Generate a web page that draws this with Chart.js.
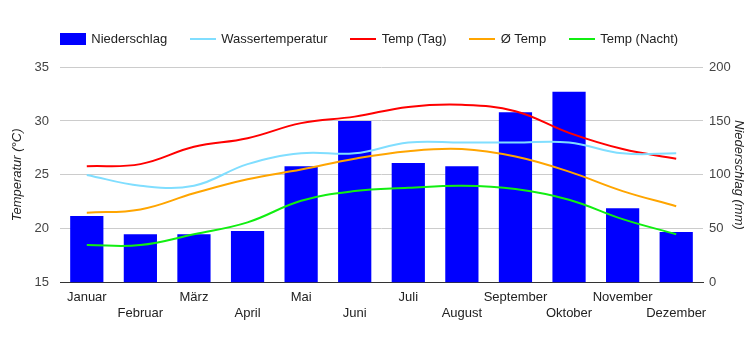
<!DOCTYPE html>
<html>
<head>
<meta charset="utf-8">
<script src="https://cdn.jsdelivr.net/npm/chart.js@4/dist/chart.umd.min.js"></script>
<style>
html,body{margin:0;padding:0;background:#fff;}
canvas{display:block;}
</style>
</head>
<body>
<canvas id="c" width="750" height="350"></canvas>
<script>
const months = ['Januar','Februar','März','April','Mai','Juni','Juli','August','September','Oktober','November','Dezember'];
const niederschlag = [62, 45, 45, 48, 108, 150, 111, 108, 158, 177, 69, 47];
const wassertemperatur = [25, 24, 24, 26, 27, 27, 28, 28, 28, 28, 27, 27];
const tempTag = [25.8, 26.0, 27.6, 28.4, 29.8, 30.4, 31.3, 31.5, 30.9, 28.9, 27.4, 26.5];
const tempMittel = [21.5, 21.8, 23.3, 24.6, 25.5, 26.5, 27.2, 27.4, 26.7, 25.3, 23.5, 22.1];
const tempNacht = [18.5, 18.5, 19.5, 20.6, 22.6, 23.5, 23.8, 24.0, 23.7, 22.7, 20.9, 19.5];
const tempTicks = [15, 20, 25, 30, 35];
const precipTicks = [0, 50, 100, 150, 200];

const FONT = '"Liberation Sans", Arial, sans-serif';
const labels = months.map((m, i) => i % 2 === 0 ? [m, ''] : ['', m]);

function swatch(color, h) {
  const c = document.createElement('canvas');
  c.width = 26; c.height = h;
  const g = c.getContext('2d');
  g.fillStyle = color; g.fillRect(0, 0, 26, h);
  return c;
}

const lineDs = (label, data, color) => ({
  type: 'line', label, data, borderColor: color, backgroundColor: color,
  borderWidth: 2, pointRadius: 0, pointHoverRadius: 0, tension: 0.4,
  fill: false, yAxisID: 'y', order: 0
});

const datasets = [
  { type: 'bar', label: 'Niederschlag', data: niederschlag, backgroundColor: '#0000ff',
    borderWidth: 0, yAxisID: 'y1', barPercentage: 0.62, categoryPercentage: 1, order: 1 },
  lineDs('Wassertemperatur', wassertemperatur, '#80deff'),
  lineDs('Temp (Tag)', tempTag, '#ff0000'),
  lineDs('Ø Temp', tempMittel, '#ffa500'),
  lineDs('Temp (Nacht)', tempNacht, '#11ee11')
];

const legendTweak = {
  id: 'legendTweak',
  afterInit(chart) {
    const lg = chart.legend;
    const f = lg.fit;
    lg.fit = function () { f.call(lg); lg.height += 11.5; };
  },
  afterLayout(chart) {
    const lg = chart.legend;
    lg.left -= 5.5; lg.right -= 5.5;
  }
};

new Chart(document.getElementById('c'), {
  data: { labels, datasets },
  options: {
    responsive: false,
    animation: false,
    layout: { padding: { top: 9, bottom: 22, left: 0, right: 0 } },
    plugins: {
      tooltip: { enabled: false },
      legend: {
        position: 'top',
        align: 'center',
        labels: {
          usePointStyle: true,
          pointStyleWidth: 24,
          padding: 23.5,
          color: '#222',
          font: { family: FONT, size: 13 },
          generateLabels(chart) {
            return chart.data.datasets.map((d, i) => ({
              text: d.label,
              pointStyle: swatch(d.type === 'bar' ? d.backgroundColor : d.borderColor, d.type === 'bar' ? 12 : 2),
              fillStyle: d.backgroundColor,
              strokeStyle: d.backgroundColor,
              lineWidth: 0,
              hidden: false,
              datasetIndex: i,
              fontColor: '#222'
            }));
          }
        }
      }
    },
    scales: {
      x: {
        grid: { display: false, drawTicks: false },
        border: { display: true, color: '#333', width: 1 },
        ticks: { color: '#222', font: { family: FONT, size: 13 }, padding: 7,
                 maxRotation: 0, autoSkip: false }
      },
      y: {
        position: 'left',
        min: 15, max: 35,
        afterBuildTicks(s) { s.ticks = tempTicks.map(v => ({ value: v })); },
        afterFit(s) { s.width = 60; },
        grid: { color: '#cccccc', drawTicks: false },
        border: { display: false },
        ticks: { color: '#444', font: { family: FONT, size: 13 }, padding: 11 },
        title: { display: true, text: 'Temperatur (°C)', color: '#222',
                 font: { family: FONT, size: 13, style: 'italic' }, padding: { top: 10, bottom: 0 } }
      },
      y1: {
        position: 'right',
        min: 0, max: 200,
        afterBuildTicks(s) { s.ticks = precipTicks.map(v => ({ value: v })); },
        afterFit(s) { s.width = 47; },
        grid: { drawOnChartArea: false, drawTicks: false },
        border: { display: false },
        ticks: { color: '#444', font: { family: FONT, size: 13 }, padding: 6 },
        title: { display: true, text: 'Niederschlag (mm)', color: '#222',
                 font: { family: FONT, size: 13, style: 'italic' }, padding: { top: 4, bottom: 0 } }
      }
    }
  },
  plugins: [legendTweak]
});
</script>
</body>
</html>
